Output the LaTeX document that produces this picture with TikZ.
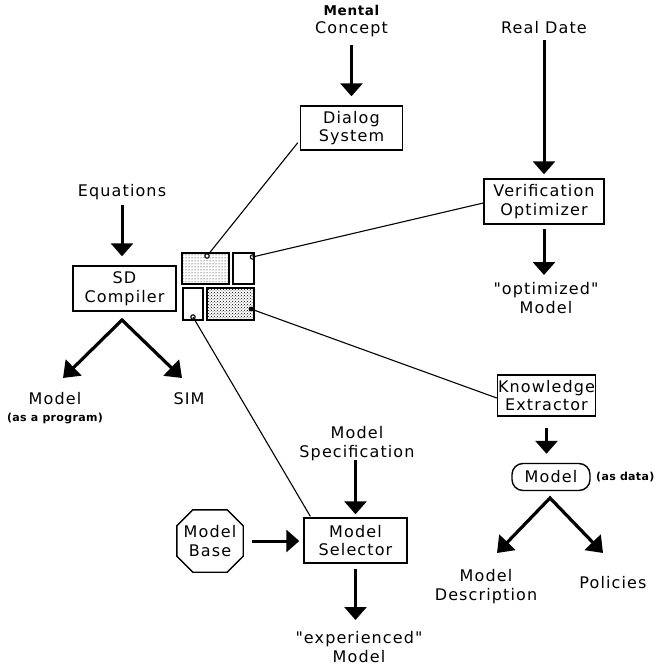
\documentclass[tikz,border=0pt]{standalone}
\usepackage{fontspec}
\setmainfont{DejaVu Sans}[LetterSpace=7, Ligatures=TeXOff]
\newfontfamily\smallbold{DejaVu Sans}[LetterSpace=3]
\newfontfamily\mentalfont{DejaVu Sans}[LetterSpace=5]
\usetikzlibrary{arrows.meta,patterns,calc}

\begin{document}
\begin{tikzpicture}[x=1pt,y=-1pt,
  lab/.style={font=\fontsize{16}{18.5}\selectfont, align=center, inner sep=0pt},
  box/.style={draw, line width=1.4pt, font=\fontsize{16}{18.5}\selectfont, align=center, inner sep=0pt},
  small/.style={font=\smallbold\bfseries\fontsize{11}{12}\selectfont, inner sep=0pt},
  flow/.style={line width=3pt, -{Triangle[width=22pt,length=13pt]}},
  fork/.style={line width=3.2pt, line join=miter, {Triangle[width=22pt,length=15pt]}-{Triangle[width=22pt,length=15pt]}},
  link/.style={line width=1.1pt},
  sq/.style={draw, line width=1.7pt, inner sep=0pt},
]
\fill[white] (0,0) rectangle (657,666);
\useasboundingbox (0,0) rectangle (657,666);

% nodes
\node[lab] (mental) at (351.5,21) {{\mentalfont\bfseries\fontsize{13.5}{18.5}\selectfont Mental}\\Concept};
\node[box, minimum width=102pt, minimum height=44pt] (dialog) at (351.5,128) {Dialog\\System};
\node[lab] (realdate) at (544,28) {Real Date};
\node[box, minimum width=120pt, minimum height=45pt] (verif) at (544,201.5) {Verification\\Optimizer};
\node[lab] (optim) at (546,298) {"optimized"\\Model};
\node[lab] (eqn) at (122,192) {Equations};
\node[box, minimum width=103pt, minimum height=45pt] (sd) at (124.5,288.5) {SD\\Compiler};

\node[sq, pattern=dots, minimum width=47pt, minimum height=31pt] (sqa) at (205.5,268.5) {};
\node[sq, minimum width=21pt, minimum height=31pt] (sqb) at (243.5,268.5) {};
\node[sq, minimum width=20pt, minimum height=32pt] (sqc) at (193,304) {};
\node[sq, pattern=crosshatch dots, minimum width=47pt, minimum height=32pt] (sqd) at (230.5,304) {};

\node[lab] (mprog) at (55,399) {Model};
\node[small] (asprog) at (55,419) {(as a program)};
\node[lab] (sim) at (189,399) {SIM};

\node[lab] (spec) at (357,443.5) {Model\\Specification};
\node[box, minimum width=103pt, minimum height=45pt] (sel) at (355.5,540.5) {Model\\Selector};
\node[lab, minimum width=66pt, minimum height=62pt] (base) at (210,541) {Model\\Base};
\node[lab] (exp) at (359,647) {"experienced"\\Model};

\node[box, minimum width=98pt, minimum height=41pt] (ke) at (546.5,395.5) {Knowledge\\Extractor};
\node[draw, line width=1.4pt, rounded corners=11pt, minimum width=78pt, minimum height=27pt, lab] (pill) at (551,477) {Model};
\node[small, anchor=west] (asdata) at (596,477) {(as data)};
\node[lab] (desc) at (486,586.5) {Model\\Description};
\node[lab] (pol) at (613,583) {Policies};

% octagon
\draw[line width=1.4pt]
  ($(base.north west)+(16,0)$) -- ($(base.north east)+(-16,0)$) --
  ($(base.north east)+(0,16)$) -- ($(base.south east)+(0,-16)$) --
  ($(base.south east)+(-16,0)$) -- ($(base.south west)+(16,0)$) --
  ($(base.south west)+(0,-16)$) -- ($(base.north west)+(0,16)$) -- cycle;

% flow arrows
\draw[flow, shorten <=24pt, shorten >=9pt] (mental.center) -- (dialog.north);
\draw[flow, shorten <=12pt, shorten >=4pt] (verif.north |- realdate.center) -- (verif.north);
\draw[flow, shorten <=4pt, shorten >=23pt] (verif.south) -- (verif.south |- optim.center);
\draw[flow, shorten <=13pt, shorten >=9pt] (eqn.center) -- (eqn.center |- sd.north);
\draw[flow, shorten <=16.5pt, shorten >=3pt] (sel.north |- spec.center) -- (sel.north);
\draw[flow, shorten <=5pt, shorten >=27pt] (sel.south) -- (sel.south |- exp.center);
\draw[flow, shorten <=9pt, shorten >=4pt] (base.east) -- (base.east -| sel.west);
\draw[flow, shorten <=11pt, shorten >=9pt] (ke.south) -- (ke.south |- pill.north);

\coordinate (sdapex) at (122,320);
\coordinate (tprog) at (63,378);
\coordinate (tsim) at (182,378);
\draw[fork] (tprog) -- (sdapex) -- (tsim);

\coordinate (papex) at (550,498);
\coordinate (tdesc) at (497,553);
\coordinate (tpol) at (603,553);
\draw[fork] (tdesc) -- (papex) -- (tpol);

% links to the window icons
\coordinate (ha) at (207,256);
\coordinate (hb) at (252.5,257);
\coordinate (hc) at (193,317);
\coordinate (hd) at (251,309);
\draw[link] ($(dialog.south west)+(-2,-8)$) -- (ha);
\draw[link] ($(verif.west)+(0,1.5)$) -- (hb);
\draw[link] ($(ke.west)+(0,2.5)$) -- (hd);
\draw[link] ($(sel.north west)+(7,-1)$) -- (hc);
\draw[link, fill=white] (ha) circle (2.2pt);
\draw[link] (hb) circle (2.2pt);
\draw[link] (hc) circle (2.2pt);
\fill (hd) circle (2.4pt);
\end{tikzpicture}
\end{document}
